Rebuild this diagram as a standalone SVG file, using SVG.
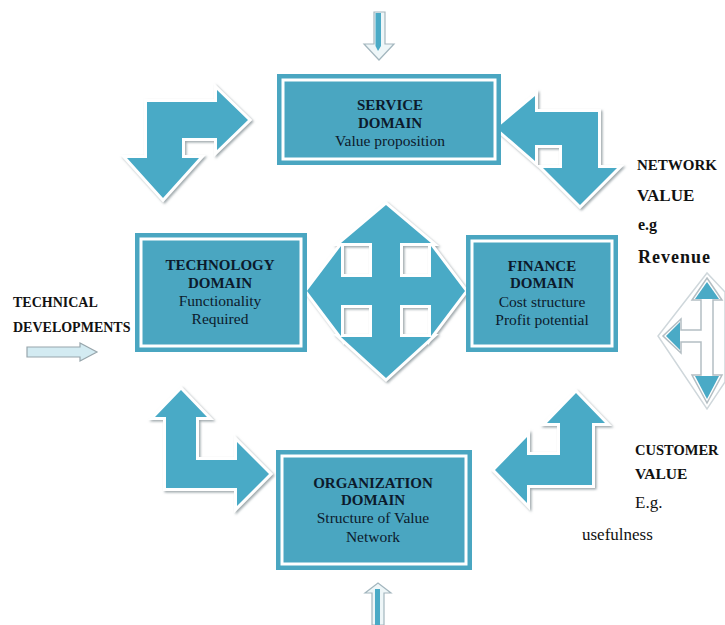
<svg xmlns="http://www.w3.org/2000/svg" width="725" height="625" viewBox="0 0 725 625">
  <defs>
    <filter id="lift" x="-20%" y="-20%" width="140%" height="140%">
      <feDropShadow dx="1.5" dy="1.5" stdDeviation="1" flood-color="#7f8a90" flood-opacity="0.75"/>
    </filter>
    <style>
      .box { fill: #4aa6c1; }
      .rim { fill: none; stroke: #ffffff; stroke-width: 3; }
      .t { font-family: "Liberation Serif", "Times New Roman", serif; fill: #0c1a2c; text-anchor: middle; }
      .b { font-weight: bold; font-size: 15px; }
      .r { font-size: 15.5px; }
      .lbl { font-family: "Liberation Serif", "Times New Roman", serif; fill: #111111; }
      .arr { fill: #4aaac6; stroke: #ffffff; stroke-width: 6; stroke-linejoin: miter; paint-order: stroke; filter: url(#lift); }
      .thin { fill: #eef6f8; stroke: #a3b6be; stroke-width: 1.2; }
      .core { fill: #4aaac6; }
    </style>
  </defs>

  <rect width="725" height="625" fill="#ffffff"/>

  <!-- connectors -->
  <g id="connectors">
    <!-- service -> technology (right / down) -->
    <path class="arr" d="M147,102 L217,102 L217,90 L248,120 L217,150 L217,138 L182,138 L182,158 L199,158 L163,198 L127,158 L147,158 Z"/>
    <!-- finance <-> service -->
    <path class="arr" d="M598,112 L598,168 L617,168 L580,205 L543,168 L562,168 L562,145 L535,145 L535,161 L497,128 L535,96 L535,112 Z"/>
    <!-- technology <-> organization -->
    <path class="arr" d="M166,488 L166,417 L155,417 L181,390 L207,417 L196,417 L196,460 L237,460 L237,442 L269,474 L237,506 L237,488 Z"/>
    <!-- organization <-> finance -->
    <path class="arr" d="M592,485 L592,423 L605,423 L576,393 L547,423 L560,423 L560,455 L527,455 L527,437 L495,470 L527,503 L527,485 Z"/>
    <!-- central four-way arrow -->
    <path class="arr" d="M386,205 L431,243 L400,243 L400,277 L431,277 L431,246 L465,291 L431,336 L431,305 L400,305 L400,337 L431,337 L386,378 L341,337 L372,337 L372,305 L341,305 L341,336 L307,291 L341,246 L341,277 L372,277 L372,243 L341,243 Z"/>

    <!-- network / customer value three-way arrow -->
    <polygon points="707,273 658,336 707,409 725,382 725,292" fill="#ffffff" stroke="#cfd7db" stroke-width="1.5"/>
    <path d="M707,278 L722,300 L713,300 L713,375 L722,375 L707,403 L692,375 L701,375 L701,342 L681,342 L681,353 L663,336 L681,319 L681,330 L701,330 L701,300 L692,300 Z" fill="#ffffff" stroke="#b4bec3" stroke-width="1.5"/>
    <polygon class="core" points="707,282 719,299 695,299"/>
    <polygon class="core" points="707,399 719,376 695,376"/>
    <polygon class="core" points="666,336 680,322 680,350"/>

    <!-- inflow from above -->
    <path class="thin" d="M374,12 L385,12 L385,44 L394,44 L379,60 L364,44 L374,44 Z"/>
    <polygon class="core" points="375.5,13 381,13 381,46 378,51 375.5,46"/>
    <!-- inflow from below -->
    <path class="thin" d="M372,625 L372,593 L365,593 L378,583 L391,593 L384,593 L384,625 Z"/>
    <rect class="core" x="375" y="589" width="5" height="36"/>
    <!-- technical developments inflow -->
    <path d="M27,347 L80,347 L80,343 L97,352 L80,361 L80,357 L27,357 Z" fill="#d3ebf2" stroke="#98a6ac" stroke-width="1.2"/>
  </g>

  <!-- domain nodes -->
  <g id="service">
    <rect class="box" x="277" y="74" width="224" height="91"/>
    <rect class="rim" x="283" y="80" width="212" height="79"/>
    <text class="t b" x="390" y="110">SERVICE</text>
    <text class="t b" x="390" y="128">DOMAIN</text>
    <text class="t r" x="390" y="146">Value proposition</text>
  </g>

  <g id="technology">
    <rect class="box" x="135" y="233" width="172" height="119"/>
    <rect class="rim" x="141" y="239" width="160" height="107"/>
    <text class="t b" x="220" y="270">TECHNOLOGY</text>
    <text class="t b" x="220" y="288">DOMAIN</text>
    <text class="t r" x="220" y="306">Functionality</text>
    <text class="t r" x="220" y="324">Required</text>
  </g>

  <g id="finance">
    <rect class="box" x="466" y="235" width="152" height="117"/>
    <rect class="rim" x="472" y="241" width="140" height="105"/>
    <text class="t b" x="542" y="271">FINANCE</text>
    <text class="t b" x="542" y="288">DOMAIN</text>
    <text class="t r" x="542" y="307">Cost structure</text>
    <text class="t r" x="542" y="325">Profit potential</text>
  </g>

  <g id="organization">
    <rect class="box" x="276" y="450" width="196" height="120"/>
    <rect class="rim" x="282" y="456" width="184" height="108"/>
    <text class="t b" x="373" y="488">ORGANIZATION</text>
    <text class="t b" x="373" y="505">DOMAIN</text>
    <text class="t r" x="373" y="523">Structure of Value</text>
    <text class="t r" x="373" y="542">Network</text>
  </g>

  <!-- outer labels -->
  <g id="technical-developments" class="lbl" font-weight="bold" font-size="14">
    <text x="13" y="307">TECHNICAL</text>
    <text x="13" y="332">DEVELOPMENTS</text>
  </g>

  <g id="network-value" class="lbl" font-weight="bold">
    <text x="637" y="170" font-size="15">NETWORK</text>
    <text x="637" y="201" font-size="17">VALUE</text>
    <text x="638" y="230" font-size="16">e.g</text>
    <text x="638" y="263" font-size="18" textLength="72">Revenue</text>
  </g>

  <g id="customer-value" class="lbl">
    <text x="635" y="455" font-size="14.5" font-weight="bold">CUSTOMER</text>
    <text x="635" y="479" font-size="15.5" font-weight="bold">VALUE</text>
    <text x="635" y="508" font-size="17">E.g.</text>
    <text x="582" y="540" font-size="17">usefulness</text>
  </g>
</svg>
